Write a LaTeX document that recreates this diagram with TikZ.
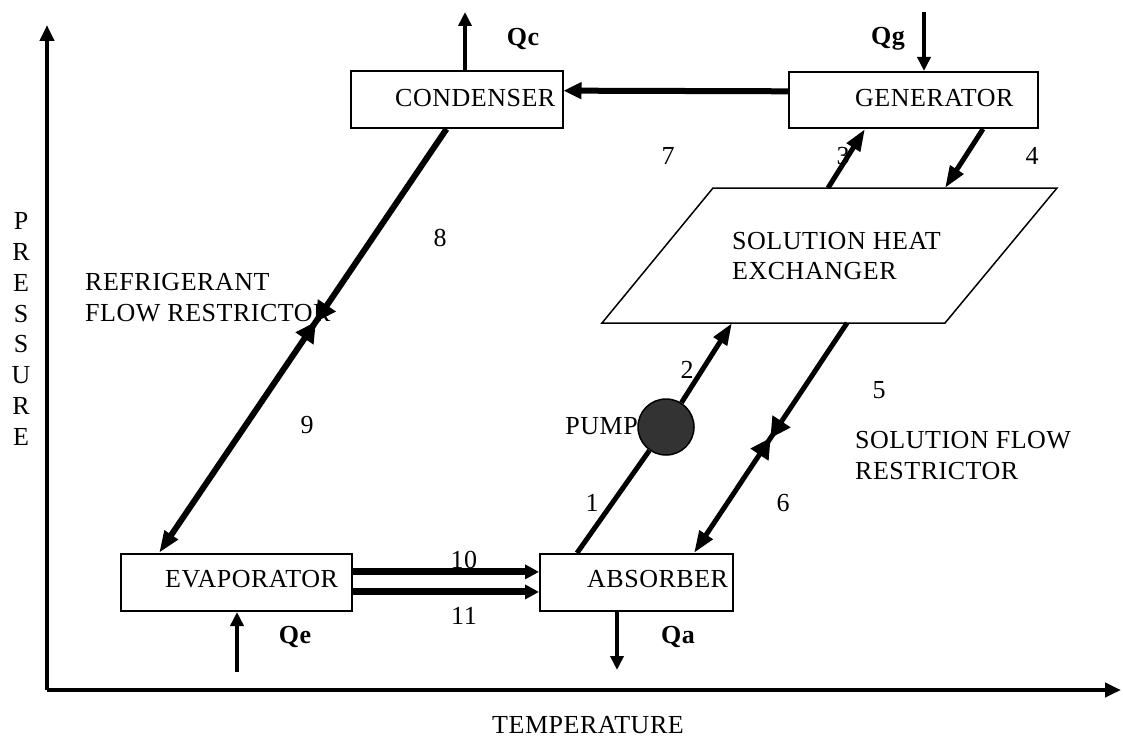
\documentclass[tikz,border=0pt]{standalone}
\usepackage{fontspec}
\setmainfont{Liberation Serif}[LetterSpace=2]
\usetikzlibrary{arrows.meta,calc}
\begin{document}
\begin{tikzpicture}[x=1pt,y=-1pt,
  every node/.style={font=\fontsize{26}{30}\selectfont, inner sep=0pt},
  box/.style={draw, line width=2pt, rectangle},
  qlab/.style={font=\fontsize{26}{30}\selectfont\bfseries},
  flow/.style={line width=5pt},
  tipd/.style={-{Triangle[length=22pt,width=15pt]}},
  heat/.style={line width=4pt, -{Triangle[length=14pt,width=13pt]}},
  axis/.style={line width=4pt, -{Triangle[length=16pt,width=14pt]}},
  valve/.style={fill=black},
]
\useasboundingbox (0,0) rectangle (1123,738);

% axes
\coordinate (org) at (47,690);
\coordinate (ytop) at (47,25);
\coordinate (xend) at (1121,690);
\draw[axis] (org) -- (ytop);
\draw[axis] (org) -- (xend);
\node[align=center, font=\fontsize{26}{30.9}\selectfont] (press) at (21,329) {P\\R\\E\\S\\S\\U\\R\\E};
\node (temp) at (588,725) {TEMPERATURE};

% boxes
\node[box, minimum width=212pt, minimum height=57pt] (cond) at (456.5,99.5) {};
\node[box, minimum width=249pt, minimum height=56pt] (gen) at (913.5,100) {};
\node[box, minimum width=231pt, minimum height=57pt] (evap) at (236.5,582.5) {};
\node[box, minimum width=193pt, minimum height=57pt] (abs) at (636.5,582.5) {};
\node[anchor=west] (condt) at (395,98) {CONDENSER};
\node[anchor=west] (gent) at (855,98) {GENERATOR};
\node[anchor=west] (evapt) at (165,579) {EVAPORATOR};
\node[anchor=west] (abst) at (587,579) {ABSORBER};

% heat exchanger
\coordinate (hxa) at (713,188);
\coordinate (hxb) at (1057,188);
\coordinate (hxc) at (945,323);
\coordinate (hxd) at (602,323);
\draw[line width=1.5pt] (hxa) -- (hxb) -- (hxc) -- (hxd) -- cycle;
\node[anchor=west] (hxt1) at (732,241) {SOLUTION HEAT};
\node[anchor=west] (hxt2) at (732,271) {EXCHANGER};

% labels
\node[anchor=west] (rfr1) at (85,282) {REFRIGERANT};
\node[anchor=west] (rfr2) at (85,313) {FLOW RESTRICTOR};
\node[anchor=west] (sfr1) at (855,440) {SOLUTION FLOW};
\node[anchor=west] (sfr2) at (855,471) {RESTRICTOR};
\node[anchor=east] (pumpt) at (638,426) {PUMP};

% ports
\coordinate (c8) at ($(cond.south west)+(97,0)$);
\coordinate (e8) at ($(evap.north west)+(39,0)$);
\coordinate (g3) at ($(gen.south west)+(77,0)$);
\coordinate (g4) at ($(gen.south west)+(195,0)$);
\coordinate (h3) at (828,188);
\coordinate (h4) at (945,188);
\coordinate (h2) at (732,323);
\coordinate (h5) at (847,323);
\coordinate (a1) at ($(abs.north west)+(38,0)$);
\coordinate (a6) at ($(abs.north west)+(155,0)$);
\coordinate (condR) at ($(cond.south east)!0.65!(cond.north east)$);
\coordinate (genL) at ($(gen.south west)!0.65!(gen.north west)$);
\coordinate (e10) at ($(evap.north east)!0.32!(evap.south east)$);
\coordinate (a10) at ($(abs.north west)!0.32!(abs.south west)$);
\coordinate (e11) at ($(evap.north east)!0.66!(evap.south east)$);
\coordinate (a11) at ($(abs.north west)!0.66!(abs.south west)$);

% pump
\node[circle, draw, fill=black!80, line width=1.5pt, minimum size=56pt] (pump) at (666,427) {};

% flows
\draw[flow, line width=6pt, tipd] (c8) -- (e8);
\draw[flow, tipd] (h3) -- (g3);
\draw[flow, tipd] (g4) -- (h4);
\draw[flow] (a1) -- (pump);
\draw[flow, tipd] (pump) -- (h2);
\draw[flow, tipd] (h5) -- (a6);
\draw[line width=6pt, -{Triangle[length=18pt,width=16pt]}] (genL) -- (condR);
\draw[line width=7pt, -{Triangle[length=14pt,width=14pt]}] (e10) -- (a10);
\draw[line width=7pt, -{Triangle[length=14pt,width=14pt]}] (e11) -- (a11);

% valves
\coordinate (v8) at ($(c8)!0.455!(e8)$);
\coordinate (v8a) at ($(v8)!20pt!(c8)$);
\coordinate (v8b) at ($(v8)!20pt!(e8)$);
\fill[valve] (v8) -- ($(v8a)!11pt!90:(v8)$) -- ($(v8a)!11pt!-90:(v8)$) -- cycle;
\fill[valve] (v8) -- ($(v8b)!11pt!90:(v8)$) -- ($(v8b)!11pt!-90:(v8)$) -- cycle;
\coordinate (v5) at ($(h5)!0.5!(a6)$);
\coordinate (v5a) at ($(v5)!20pt!(h5)$);
\coordinate (v5b) at ($(v5)!20pt!(a6)$);
\fill[valve] (v5) -- ($(v5a)!11pt!90:(v5)$) -- ($(v5a)!11pt!-90:(v5)$) -- cycle;
\fill[valve] (v5) -- ($(v5b)!11pt!90:(v5)$) -- ($(v5b)!11pt!-90:(v5)$) -- cycle;

% heat flows
\coordinate (qct) at (465,12);
\coordinate (qgt) at (924,12);
\coordinate (qet) at (237,672);
\coordinate (qat) at (617,670);
\draw[heat] (cond.north -| qct) -- (qct);
\draw[heat] (qgt) -- (gen.north -| qgt);
\draw[heat] (qet) -- (evap.south -| qet);
\draw[heat] (abs.south -| qat) -- (qat);
\node[qlab] (qc) at (523,39) {Qc};
\node[qlab] (qg) at (888,39) {Qg};
\node[qlab] (qe) at (295,637) {Qe};
\node[qlab] (qa) at (678,637) {Qa};

% state numbers
\node (n1) at (592,503) {1};
\node (n2) at (687,370) {2};
\node (n3) at (843,156) {3};
\node (n4) at (1032,156) {4};
\node (n5) at (879,390) {5};
\node (n6) at (783,503) {6};
\node (n7) at (668,156) {7};
\node (n8) at (440,238) {8};
\node (n9) at (307,425) {9};
\node (n10) at (464,560) {10};
\node (n11) at (464,616) {11};
\end{tikzpicture}
\end{document}
